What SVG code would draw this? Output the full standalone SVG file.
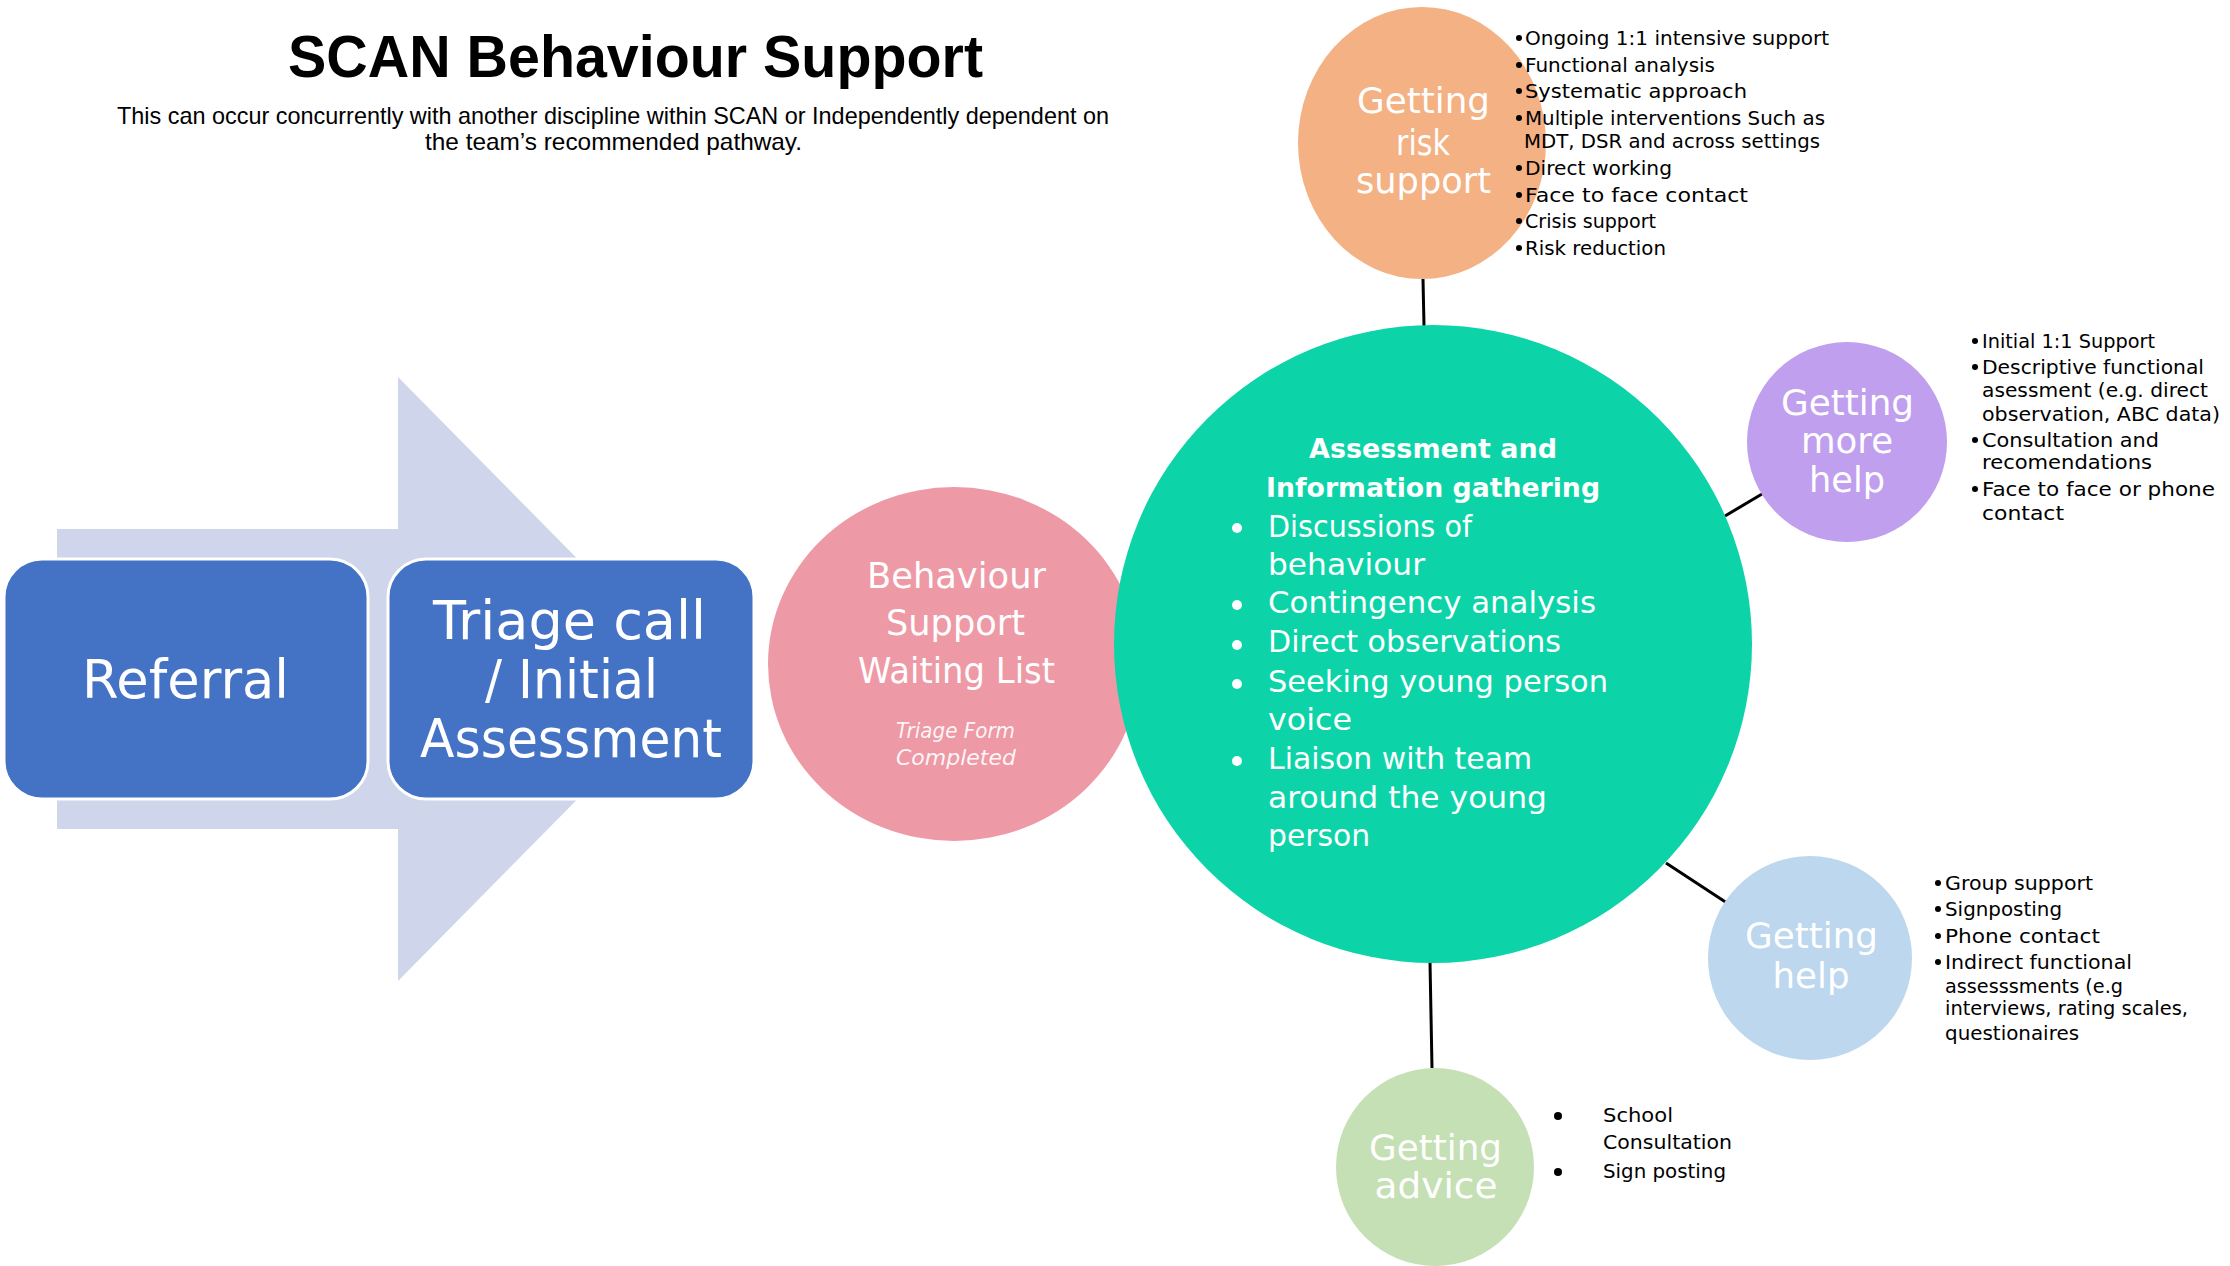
<svg xmlns="http://www.w3.org/2000/svg" width="2230" height="1266" viewBox="0 0 2230 1266">
<style>
text{font-family:"DejaVu Sans","Liberation Sans",sans-serif}
.ttl{font-family:"Liberation Sans",Arial,sans-serif;font-weight:bold;font-size:60px;fill:#000}
.sub{font-family:"Liberation Sans",Arial,sans-serif;font-size:24px;fill:#000}
.box{fill:#4472C4;stroke:#fff;stroke-width:3}
.boxt{font-size:54px;fill:#fff}
.ct{font-size:35px;fill:#fff}
.li{font-size:20px;fill:#000}
.gl{font-size:31px;fill:#fff}
.gh{font-size:27px;font-weight:bold;fill:#fff}
.dot{fill:#000}
.wdot{fill:#fff}
.con line{stroke:#000;stroke-width:3}
</style>

<g id="title">
<text class="ttl" x="288" y="77" textLength="695" lengthAdjust="spacingAndGlyphs">SCAN Behaviour Support</text>
<text class="sub" x="117" y="124" textLength="992" lengthAdjust="spacingAndGlyphs">This can occur concurrently with another discipline within SCAN or Independently dependent on</text>
<text class="sub" x="425" y="150" textLength="377" lengthAdjust="spacingAndGlyphs">the team’s recommended pathway.</text>
</g>

<g id="process-arrow">
<polygon points="57,529 398,529 398,377 696,679 398,981 398,829 57,829" fill="#CFD5EA"/>
</g>

<g class="con" id="connectors">
<line x1="1423" y1="279" x2="1424" y2="326"/>
<line x1="1725" y1="516" x2="1762" y2="494"/>
<line x1="1666" y1="863" x2="1727" y2="903"/>
<line x1="1430" y1="962" x2="1432" y2="1068"/>
</g>

<g id="referral">
<rect class="box" x="4" y="559" width="364" height="240" rx="38" ry="38"/>
<text class="boxt" x="82" y="698" textLength="207" lengthAdjust="spacingAndGlyphs">Referral</text>
</g>

<g id="triage">
<rect class="box" x="388" y="559" width="366" height="240" rx="38" ry="38"/>
<text class="boxt" x="433" y="639" textLength="273" lengthAdjust="spacingAndGlyphs">Triage call</text>
<text class="boxt" x="485" y="698" textLength="173" lengthAdjust="spacingAndGlyphs">/ Initial</text>
<text class="boxt" x="420" y="757" textLength="302" lengthAdjust="spacingAndGlyphs">Assessment</text>
</g>

<g id="waiting-list">
<ellipse cx="954" cy="664" rx="186" ry="177" fill="#EE99A6"/>
<text class="ct" x="867" y="588" textLength="179" lengthAdjust="spacingAndGlyphs">Behaviour</text>
<text class="ct" x="886" y="635" textLength="139" lengthAdjust="spacingAndGlyphs">Support</text>
<text class="ct" x="858" y="683" textLength="197" lengthAdjust="spacingAndGlyphs">Waiting List</text>
<text x="896" y="738" font-size="21" font-style="italic" fill="#fff" fill-opacity="0.92" textLength="119" lengthAdjust="spacingAndGlyphs">Triage Form</text>
<text x="896" y="765" font-size="21" font-style="italic" fill="#fff" fill-opacity="0.92" textLength="120" lengthAdjust="spacingAndGlyphs">Completed</text>
</g>

<g id="assessment">
<circle cx="1433" cy="644" r="319" fill="#0CD4A8"/>
<text class="gh" x="1309" y="458" textLength="248" lengthAdjust="spacingAndGlyphs">Assessment and</text>
<text class="gh" x="1266" y="497" textLength="334" lengthAdjust="spacingAndGlyphs">Information gathering</text>
<circle class="wdot" cx="1237" cy="528" r="5"/>
<circle class="wdot" cx="1237" cy="605" r="5"/>
<circle class="wdot" cx="1237" cy="645" r="5"/>
<circle class="wdot" cx="1237" cy="684" r="5"/>
<circle class="wdot" cx="1237" cy="761" r="5"/>
<text class="gl" x="1268" y="537" textLength="204" lengthAdjust="spacingAndGlyphs">Discussions of</text>
<text class="gl" x="1268" y="575" textLength="157" lengthAdjust="spacingAndGlyphs">behaviour</text>
<text class="gl" x="1268" y="613" textLength="328" lengthAdjust="spacingAndGlyphs">Contingency analysis</text>
<text class="gl" x="1268" y="652" textLength="293" lengthAdjust="spacingAndGlyphs">Direct observations</text>
<text class="gl" x="1268" y="692" textLength="340" lengthAdjust="spacingAndGlyphs">Seeking young person</text>
<text class="gl" x="1268" y="730" textLength="84" lengthAdjust="spacingAndGlyphs">voice</text>
<text class="gl" x="1268" y="769" textLength="264" lengthAdjust="spacingAndGlyphs">Liaison with team</text>
<text class="gl" x="1268" y="808" textLength="279" lengthAdjust="spacingAndGlyphs">around the young</text>
<text class="gl" x="1268" y="846" textLength="102" lengthAdjust="spacingAndGlyphs">person</text>
</g>

<g id="risk-support">
<ellipse cx="1422" cy="143" rx="124" ry="136" fill="#F4B183"/>
<text class="ct" x="1357" y="113" textLength="133" lengthAdjust="spacingAndGlyphs">Getting</text>
<text class="ct" x="1423" y="155" text-anchor="middle" textLength="54" lengthAdjust="spacingAndGlyphs">risk</text>
<text class="ct" x="1356" y="193" textLength="135" lengthAdjust="spacingAndGlyphs">support</text>
<circle class="dot" cx="1519" cy="38" r="3"/>
<circle class="dot" cx="1519" cy="65" r="3"/>
<circle class="dot" cx="1519" cy="91" r="3"/>
<circle class="dot" cx="1519" cy="118" r="3"/>
<circle class="dot" cx="1519" cy="168" r="3"/>
<circle class="dot" cx="1519" cy="195" r="3"/>
<circle class="dot" cx="1519" cy="221" r="3"/>
<circle class="dot" cx="1519" cy="248" r="3"/>
<text class="li" x="1525" y="45" textLength="304" lengthAdjust="spacingAndGlyphs">Ongoing 1:1 intensive support</text>
<text class="li" x="1525" y="72" textLength="190" lengthAdjust="spacingAndGlyphs">Functional analysis</text>
<text class="li" x="1525" y="98" textLength="222" lengthAdjust="spacingAndGlyphs">Systematic approach</text>
<text class="li" x="1525" y="125" textLength="300" lengthAdjust="spacingAndGlyphs">Multiple interventions Such as</text>
<text class="li" x="1524" y="148" textLength="296" lengthAdjust="spacingAndGlyphs">MDT, DSR and across settings</text>
<text class="li" x="1525" y="175" textLength="147" lengthAdjust="spacingAndGlyphs">Direct working</text>
<text class="li" x="1525" y="202" textLength="223" lengthAdjust="spacingAndGlyphs">Face to face contact</text>
<text class="li" x="1525" y="228" textLength="131" lengthAdjust="spacingAndGlyphs">Crisis support</text>
<text class="li" x="1525" y="255" textLength="141" lengthAdjust="spacingAndGlyphs">Risk reduction</text>
</g>

<g id="more-help">
<circle cx="1847" cy="442" r="100" fill="#BF9FEE"/>
<text class="ct" x="1781" y="415" textLength="133" lengthAdjust="spacingAndGlyphs">Getting</text>
<text class="ct" x="1847" y="453" text-anchor="middle" textLength="92" lengthAdjust="spacingAndGlyphs">more</text>
<text class="ct" x="1847" y="492" text-anchor="middle" textLength="76" lengthAdjust="spacingAndGlyphs">help</text>
<circle class="dot" cx="1975" cy="341" r="3"/>
<circle class="dot" cx="1975" cy="367" r="3"/>
<circle class="dot" cx="1975" cy="440" r="3"/>
<circle class="dot" cx="1975" cy="489" r="3"/>
<text class="li" x="1982" y="348" textLength="173" lengthAdjust="spacingAndGlyphs">Initial 1:1 Support</text>
<text class="li" x="1982" y="374" textLength="222" lengthAdjust="spacingAndGlyphs">Descriptive functional</text>
<text class="li" x="1982" y="397" textLength="226" lengthAdjust="spacingAndGlyphs">asessment (e.g. direct</text>
<text class="li" x="1982" y="421" textLength="238" lengthAdjust="spacingAndGlyphs">observation, ABC data)</text>
<text class="li" x="1982" y="447" textLength="177" lengthAdjust="spacingAndGlyphs">Consultation and</text>
<text class="li" x="1982" y="469" textLength="170" lengthAdjust="spacingAndGlyphs">recomendations</text>
<text class="li" x="1982" y="496" textLength="233" lengthAdjust="spacingAndGlyphs">Face to face or phone</text>
<text class="li" x="1982" y="520" textLength="82" lengthAdjust="spacingAndGlyphs">contact</text>
</g>

<g id="getting-help">
<circle cx="1810" cy="958" r="102" fill="#BDD7EE"/>
<text class="ct" x="1745" y="948" textLength="133" lengthAdjust="spacingAndGlyphs">Getting</text>
<text class="ct" x="1811" y="988" text-anchor="middle" textLength="77" lengthAdjust="spacingAndGlyphs">help</text>
<circle class="dot" cx="1938" cy="883" r="3"/>
<circle class="dot" cx="1938" cy="909" r="3"/>
<circle class="dot" cx="1938" cy="936" r="3"/>
<circle class="dot" cx="1938" cy="962" r="3"/>
<text class="li" x="1945" y="890" textLength="148" lengthAdjust="spacingAndGlyphs">Group support</text>
<text class="li" x="1945" y="916" textLength="117" lengthAdjust="spacingAndGlyphs">Signposting</text>
<text class="li" x="1945" y="943" textLength="155" lengthAdjust="spacingAndGlyphs">Phone contact</text>
<text class="li" x="1945" y="969" textLength="187" lengthAdjust="spacingAndGlyphs">Indirect functional</text>
<text class="li" x="1945" y="993" textLength="178" lengthAdjust="spacingAndGlyphs">assesssments (e.g</text>
<text class="li" x="1945" y="1015" textLength="243" lengthAdjust="spacingAndGlyphs">interviews, rating scales,</text>
<text class="li" x="1945" y="1040" textLength="134" lengthAdjust="spacingAndGlyphs">questionaires</text>
</g>

<g id="getting-advice">
<circle cx="1435" cy="1167" r="99" fill="#C5E0B4"/>
<text class="ct" x="1369" y="1160" textLength="133" lengthAdjust="spacingAndGlyphs">Getting</text>
<text class="ct" x="1436" y="1198" text-anchor="middle" textLength="123" lengthAdjust="spacingAndGlyphs">advice</text>
<circle class="dot" cx="1558" cy="1116" r="4"/>
<circle class="dot" cx="1558" cy="1172" r="4"/>
<text class="li" x="1603" y="1122" textLength="70" lengthAdjust="spacingAndGlyphs">School</text>
<text class="li" x="1603" y="1149" textLength="129" lengthAdjust="spacingAndGlyphs">Consultation</text>
<text class="li" x="1603" y="1178" textLength="123" lengthAdjust="spacingAndGlyphs">Sign posting</text>
</g>
</svg>
